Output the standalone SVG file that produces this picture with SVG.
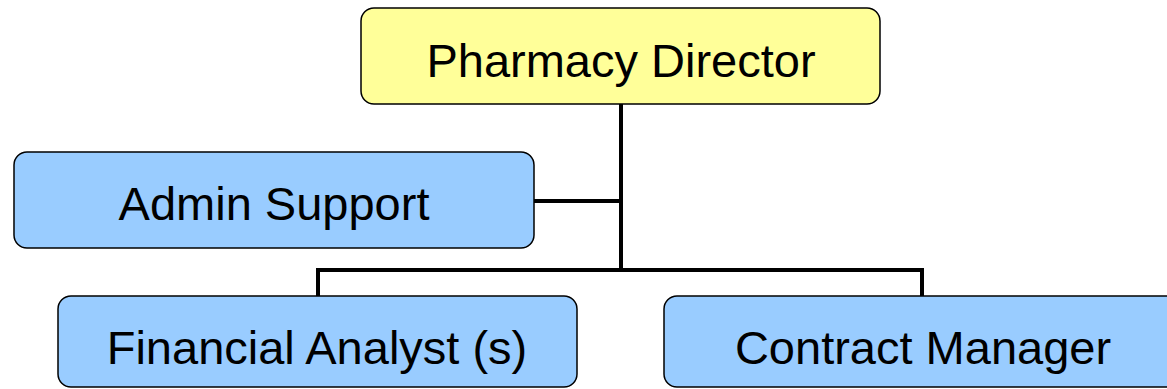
<svg xmlns="http://www.w3.org/2000/svg" width="1167" height="389" viewBox="0 0 1167 389">
  <style>
    .box { stroke: #000; stroke-width: 1.5; }
    .head { fill: #FFFF99; }
    .staff { fill: #99CCFF; }
    .label { font-family: "Liberation Sans", Arial, sans-serif; font-size: 47px; fill: #000; text-anchor: middle; }
    .link { fill: none; stroke: #000; stroke-width: 4; }
  </style>
  <rect width="1167" height="389" fill="#fff"/>
  <g id="connectors">
    <path class="link" d="M621 104 V270"/>
    <path class="link" d="M534 201 H621"/>
    <path class="link" d="M318 296 V270 H922 V296"/>
  </g>
  <g id="pharmacy-director">
    <rect class="box head" x="361" y="8" width="519" height="96" rx="13"/>
    <text class="label" x="621" y="77">Pharmacy Director</text>
  </g>
  <g id="admin-support">
    <rect class="box staff" x="14" y="152" width="520" height="96" rx="13"/>
    <text class="label" x="274" y="220">Admin Support</text>
  </g>
  <g id="financial-analyst">
    <rect class="box staff" x="58" y="296" width="519" height="91" rx="13"/>
    <text class="label" x="317" y="364">Financial Analyst (s)</text>
  </g>
  <g id="contract-manager">
    <rect class="box staff" x="664" y="296" width="519" height="91" rx="13"/>
    <text class="label" x="923" y="364">Contract Manager</text>
  </g>
</svg>
